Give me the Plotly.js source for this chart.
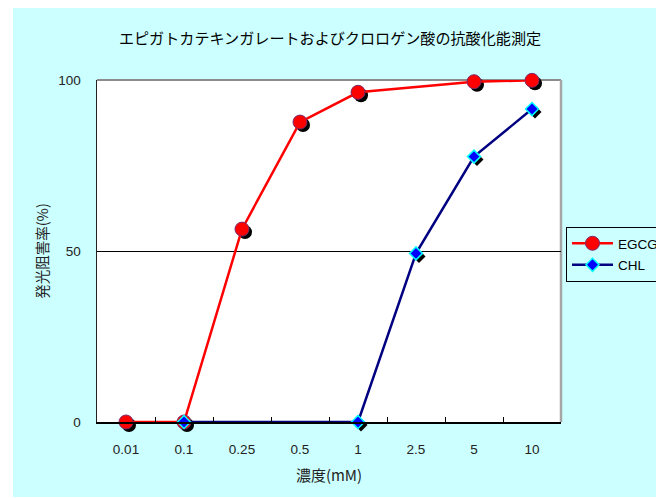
<!DOCTYPE html>
<html>
<head>
<meta charset="utf-8">
<script src="https://cdn.plot.ly/plotly-3.0.1.min.js"></script>
<style>
html,body{margin:0;padding:0;background:#ffffff;overflow:hidden;width:656px;height:498px;}
#chart{position:absolute;left:13px;top:8px;width:700px;height:489px;}
</style>
</head>
<body>
<div id="chart"></div>
<script>
const categories = ['0.01','0.1','0.25','0.5','1','2.5','5','10'];
const egcgValues = [0, 0, 56.4, 87.7, 96.4, null, 99.5, 99.9];
const chlValues = [null, 0, null, null, 0, 49.3, 77.6, 91.5];
const seriesNames = ['EGCG', 'CHL'];
const yTicks = [0, 50, 100];

const W = 700, H = 489;
const PW = 464, PH = 342, SH = 3;
const UW = PW + SH, UH = PH + SH;
const mL = 84, mT = 72;

const cjk = '"Noto Sans CJK JP", "Noto Sans", sans-serif';
const lat = '"Liberation Sans", Arial, sans-serif';

const shadowCommon = {type:'scatter', mode:'markers', xaxis:'x', yaxis:'y', showlegend:false,
  hoverinfo:'skip', cliponaxis:false};

const traces = [
  Object.assign({}, shadowCommon, {x:categories, y:egcgValues,
    marker:{symbol:'circle', size:14, color:'#000000', line:{width:0}}}),
  Object.assign({}, shadowCommon, {x:categories, y:chlValues,
    marker:{symbol:'diamond', size:10, color:'#000000', line:{width:0}}}),
  {type:'scatter', mode:'lines+markers', name:seriesNames[0], x:categories, y:egcgValues,
    xaxis:'x2', yaxis:'y2', connectgaps:true, cliponaxis:false, legendgroup:'a',
    line:{color:'#ff0000', width:2.5},
    marker:{symbol:'circle', size:14, color:'#ff0000', line:{color:'#7a2a6a', width:1}}},
  {type:'scatter', mode:'lines+markers', name:seriesNames[1], x:categories, y:chlValues,
    xaxis:'x2', yaxis:'y2', connectgaps:true, cliponaxis:false, legendgroup:'b',
    line:{color:'#000080', width:2.5},
    marker:{symbol:'diamond', size:10, color:'#0000ff', line:{color:'#00ffff', width:1.5}}}
];

const catAxis = {type:'category', categoryorder:'array', categoryarray:categories, range:[-0.5, 7.5]};

const layout = {
  width:W, height:H,
  paper_bgcolor:'#ccffff', plot_bgcolor:'rgba(0,0,0,0)',
  margin:{l:mL, t:mT, r:W - mL - UW, b:H - mT - UH, autoexpand:false},
  showlegend:true,
  title:{text:'エピガトカテキンガレートおよびクロロゲン酸の抗酸化能測定',
    xref:'container', yref:'container', x:317/W, xanchor:'center',
    y:1 - 30.5/H, yanchor:'middle',
    font:{family:cjk, size:15.1, color:'#000000'}},
  xaxis:Object.assign({}, catAxis, {domain:[SH/UW, 1], anchor:'y', visible:false, fixedrange:true}),
  yaxis:{domain:[0, PH/UH], anchor:'x', range:[0, 100], visible:false, fixedrange:true},
  xaxis2:Object.assign({}, catAxis, {domain:[0, PW/UW], anchor:'y2',
    showline:true, linecolor:'#000000', linewidth:1.5,
    ticks:'inside', tickson:'boundaries', ticklen:5, tickcolor:'#000000', tickwidth:1,
    showgrid:false, zeroline:false,
    ticklabelstandoff:14,
    tickfont:{family:lat, size:13.5, color:'#222222'},
    title:{text:'濃度(mM)', standoff:15, font:{family:cjk, size:15, color:'#222222'}}}),
  yaxis2:{domain:[SH/UH, 1], anchor:'x2', range:[0, 100],
    tickmode:'array', tickvals:yTicks, ticktext:yTicks.map(String),
    showline:true, linecolor:'#222222', linewidth:1.5,
    ticks:'', showgrid:true, gridcolor:'#000000', gridwidth:1, zeroline:false,
    ticklabelstandoff:12,
    tickfont:{family:lat, size:13.5, color:'#222222'},
    title:{text:'発光阻害率(%)', standoff:6, font:{family:cjk, size:14.5, color:'#222222'}}},
  shapes:[
    {type:'rect', xref:'paper', yref:'paper', x0:0, x1:PW/UW, y0:SH/UH, y1:1,
      fillcolor:'#ffffff', line:{width:0}, layer:'below'},
    {type:'line', xref:'paper', yref:'paper', x0:0, x1:PW/UW, y0:1, y1:1,
      line:{color:'#8c8c8c', width:2}, layer:'below'},
    {type:'line', xref:'paper', yref:'paper', x0:PW/UW, x1:PW/UW, y0:SH/UH, y1:1,
      line:{color:'#a6a6a6', width:2.5}, layer:'below'}
  ],
  legend:{x:(553 - mL)/UW, xanchor:'left', y:(mT + UH - 219)/UH, yanchor:'top',
    bgcolor:'rgba(0,0,0,0)', bordercolor:'#000000', borderwidth:1,
    itemwidth:41, traceorder:'grouped', tracegroupgap:1,
    font:{family:lat, size:13.5, color:'#000000'}},
  hovermode:false
};

Plotly.newPlot('chart', traces, layout, {displayModeBar:false, staticPlot:true});
</script>
</body>
</html>
